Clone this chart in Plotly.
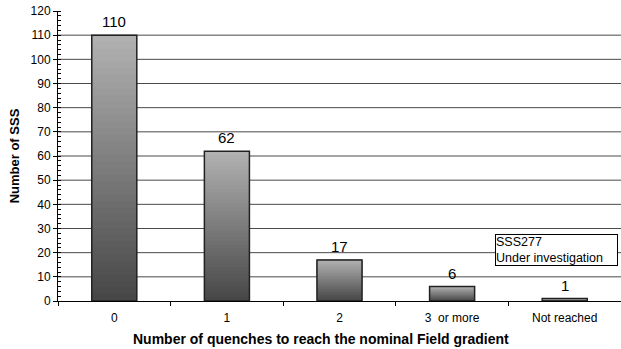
import plotly.graph_objects as go

categories = ["0", "1", "2", "3  or more", "Not reached"]
counts = [110, 62, 17, 6, 1]
y_ticks = list(range(0, 121, 10))
grid_values = list(range(10, 111, 10))

# vertical shading of each bar: light grey at the top, dark grey at the base
N_STEPS = 40
TOP_RGB = (178, 178, 178)
BOTTOM_RGB = (70, 70, 70)


def shade(frac):
    r, g, b = (round(BOTTOM_RGB[i] + (TOP_RGB[i] - BOTTOM_RGB[i]) * frac) for i in range(3))
    return f"rgb({r},{g},{b})"


fig = go.Figure()

# each band runs from its own base up to the bar top; later bands paint over
# the upper part, so no seams appear between them
for k in range(N_STEPS):
    frac = (k + 0.5) / N_STEPS
    fig.add_trace(go.Bar(
        x=categories,
        y=[v * (N_STEPS - k) / N_STEPS for v in counts],
        base=[v * k / N_STEPS for v in counts],
        marker=dict(color=shade(frac), line=dict(width=0)),
        width=0.4,
        hoverinfo="skip",
        showlegend=False,
    ))

# outline of each bar
fig.add_trace(go.Bar(
    x=categories,
    y=counts,
    width=0.4,
    marker=dict(color="rgba(0,0,0,0)", line=dict(color="#222222", width=1.5)),
    hoverinfo="x+y",
    showlegend=False,
))

shapes = [
    dict(type="line", xref="paper", yref="y", x0=0, x1=1, y0=g, y1=g,
         line=dict(color="#4a4a4a", width=1), layer="below")
    for g in grid_values
]

annotations = [
    dict(x=c, y=v, xref="x", yref="y", text=str(v), showarrow=False,
         yanchor="bottom", yshift=3, font=dict(size=15, color="black"))
    for c, v in zip(categories, counts)
]
annotations.append(dict(
    text="SSS277<br>Under investigation",
    xref="paper", yref="y",
    x=0.776, y=27.6,
    xanchor="left", yanchor="top",
    align="left",
    showarrow=False,
    font=dict(size=12.5, color="black"),
    bordercolor="black",
    borderwidth=1,
    borderpad=0,
    bgcolor="white",
    width=121,
))
# x-axis title, centred on the chart area
annotations.append(dict(
    text="<b>Number of quenches to reach the nominal Field gradient</b>",
    xref="paper", yref="paper",
    x=0.467, y=-0.131,
    xanchor="center", yanchor="middle",
    showarrow=False,
    font=dict(size=14, color="black"),
))

fig.update_layout(
    barmode="overlay",
    width=621,
    height=349,
    margin=dict(l=58, r=0, t=11, b=48),
    paper_bgcolor="white",
    plot_bgcolor="white",
    font=dict(family="Liberation Sans, Arial, sans-serif", size=12, color="black"),
    shapes=shapes,
    annotations=annotations,
    xaxis=dict(
        type="category",
        showline=True,
        linecolor="black",
        linewidth=1,
        ticks="outside",
        tickson="boundaries",
        ticklen=4,
        tickcolor="black",
        showgrid=False,
        tickfont=dict(size=12),
        ticklabelstandoff=6,
    ),
    yaxis=dict(
        range=[0, 120],
        tickvals=y_ticks,
        showline=True,
        linecolor="black",
        linewidth=1,
        ticks="outside",
        ticklen=4,
        tickcolor="black",
        showgrid=False,
        zeroline=False,
        tickfont=dict(size=12),
        minor=dict(dtick=2, ticks="inside", ticklen=3, tickcolor="black", showgrid=False),
        title=dict(text="<b>Number of SSS</b>", font=dict(size=13), standoff=8),
    ),
)

fig.write_html("out.html")
